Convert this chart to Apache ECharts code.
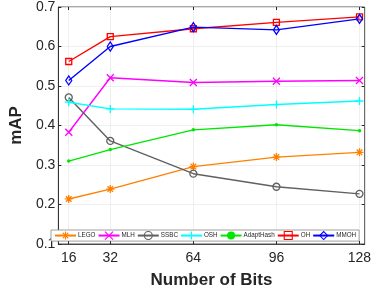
<!DOCTYPE html>
<html><head><meta charset="utf-8">
<script src="https://cdn.jsdelivr.net/npm/echarts@6/dist/echarts.min.js"></script>
<style>html,body{margin:0;padding:0;background:#fff}#c{width:374px;height:294px}</style>
</head><body><div id="c"></div>
<script>
var bits = [16, 32, 64, 96, 128];
var yTicks = [0.1, 0.2, 0.3, 0.4, 0.5, 0.6, 0.7];
var seriesNames = ['LEGO', 'MLH', 'SSBC', 'OSH', 'AdaptHash', 'OH', 'MMOH'];
var seriesColors = ['#ff8000', '#ff00ff', '#606060', '#00ffff', '#00e600', '#ff0000', '#0000ff'];
var lego = [0.214, 0.239, 0.296, 0.320, 0.332];
var mlh = [0.383, 0.521, 0.509, 0.512, 0.514];
var ssbc = [0.471, 0.361, 0.278, 0.245, 0.227];
var osh = [0.459, 0.442, 0.441, 0.453, 0.462];
var adapt = [0.310, 0.339, 0.389, 0.402, 0.387];
var oh = [0.562, 0.625, 0.645, 0.661, 0.675];
var mmoh = [0.514, 0.600, 0.649, 0.642, 0.670];

var ast = 'path://M5 0L5 10M0 5L10 5M1.5 1.5L8.5 8.5M8.5 1.5L1.5 8.5';
var xs = 'path://M0 0L10 10M10 0L0 10';
var plus = 'path://M5 0L5 10M0 5L10 5';

function pairs(v){ return bits.map(function(b,i){ return [b, v[i]]; }); }
function mk(name, data, color, symbol, size, filled){
  return {
    name: name, type: 'line', data: pairs(data), symbol: symbol, symbolSize: size,
    lineStyle: {color: color, width: 1.4},
    itemStyle: filled ? {color: color} : {color: 'rgba(255,255,255,0)', borderColor: color, borderWidth: 1.3},
    emphasis: {disabled: true}, z: 3
  };
}
var legendData = seriesNames.map(function(n, i){
  var c = seriesColors[i];
  var filled = n === 'AdaptHash';
  return {name: n, itemStyle: filled ? {color: c, borderWidth: 0} : {color: 'rgba(255,255,255,0)', borderColor: c, borderWidth: 1.1}};
});
var chart = echarts.init(document.getElementById('c'), null, {renderer: 'canvas'});
var txt = '#262626';
chart.setOption({
  animation: false,
  grid: {left: 49, right: 6, top: 7, bottom: 46, show: true, borderColor: txt, borderWidth: 0.8},
  xAxis: [{
    type: 'value', min: 12, max: 130,
    name: 'Number of Bits', nameLocation: 'middle', nameGap: 28,
    nameTextStyle: {fontSize: 17, fontWeight: 'bold', color: txt, fontFamily: 'Liberation Sans'},
    axisLine: {lineStyle: {color: txt, width: 0.8}},
    axisTick: {show: true, inside: true, length: 3, customValues: bits, lineStyle: {color: txt}},
    axisLabel: {customValues: bits, fontSize: 14, color: txt, margin: 7, fontFamily: 'Liberation Sans'},
    splitLine: {show: true, lineStyle: {color: '#ebebeb', width: 0.8}}
  }, {
    type: 'value', min: 12, max: 130, position: 'top',
    axisLine: {show: false},
    axisTick: {show: true, inside: true, length: 3, customValues: bits, lineStyle: {color: txt}},
    axisLabel: {show: false, customValues: bits},
    splitLine: {show: false}
  }],
  yAxis: [{
    type: 'value', min: 0.1, max: 0.7, interval: 0.1,
    name: 'mAP', nameLocation: 'middle', nameGap: 31,
    nameTextStyle: {fontSize: 17, fontWeight: 'bold', color: txt, fontFamily: 'Liberation Sans'},
    axisLine: {show: true, lineStyle: {color: txt, width: 0.8}},
    axisTick: {show: true, inside: true, length: 3, lineStyle: {color: txt}},
    axisLabel: {fontSize: 14, color: txt, margin: 3, fontFamily: 'Liberation Sans',
      formatter: function(v){ return v.toFixed(1); }},
    splitLine: {show: true, lineStyle: {color: '#ebebeb', width: 0.8}}
  }, {
    type: 'value', min: 0.1, max: 0.7, interval: 0.1, position: 'right',
    axisLine: {show: false},
    axisTick: {show: true, inside: true, length: 3, lineStyle: {color: txt}},
    axisLabel: {show: false}, splitLine: {show: false}
  }],
  legend: {
    left: 51, top: 230, orient: 'horizontal',
    data: legendData,
    itemWidth: 21, itemHeight: 10, itemGap: 2,
    padding: [1, 3], borderColor: '#888', borderWidth: 0.8, backgroundColor: '#fff',
    textStyle: {fontSize: 6.3, color: txt, padding: [0, 0, 0, -3], fontFamily: 'Liberation Sans'}
  },
  series: [
    mk('LEGO', lego, seriesColors[0], ast, 8, false),
    mk('MLH', mlh, seriesColors[1], xs, 7, false),
    mk('SSBC', ssbc, seriesColors[2], 'circle', 7, false),
    mk('OSH', osh, seriesColors[3], plus, 8, false),
    mk('AdaptHash', adapt, seriesColors[4], 'circle', 3.5, true),
    mk('OH', oh, seriesColors[5], 'rect', 6, false),
    mk('MMOH', mmoh, seriesColors[6], 'diamond', [6, 9], false)
  ]
});
</script></body></html>
